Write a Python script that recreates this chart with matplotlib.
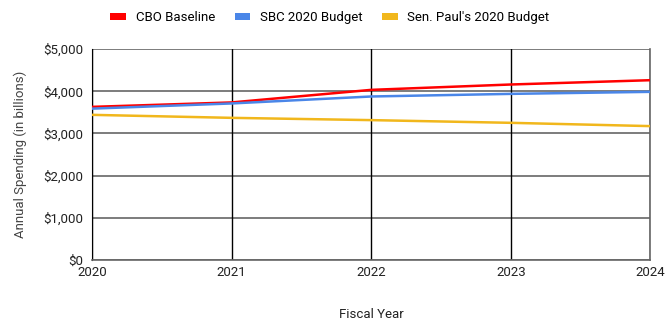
import matplotlib
matplotlib.use("Agg")
import matplotlib.pyplot as plt
from matplotlib.ticker import FuncFormatter
from matplotlib.patches import Patch

plt.rcParams['font.family'] = ['Roboto', 'DejaVu Sans']

years = [2020, 2021, 2022, 2023, 2024]
cbo_baseline = [3628, 3733, 4031, 4158, 4260]
sbc_budget = [3586, 3709, 3874, 3936, 3984]
paul_budget = [3439, 3368, 3314, 3250, 3172]
series_names = ["CBO Baseline", "SBC 2020 Budget", "Sen. Paul's 2020 Budget"]
colors = ["#ff0000", "#4a86e8", "#f1b71c"]
y_ticks = [0, 1000, 2000, 3000, 4000, 5000]

fig = plt.figure(figsize=(6.65, 3.2), dpi=100)
ax = fig.add_axes([0.1383, 0.1875, 0.978 - 0.1383, 0.847 - 0.1875])

ax.set_xlim(years[0], years[-1])
ax.set_ylim(0, 5000)
ax.set_yticks(y_ticks)
ax.set_xticks(years)
ax.yaxis.set_major_formatter(FuncFormatter(lambda v, p: f"${int(v):,}"))

for y in y_ticks:
    ax.axhline(y, color="#666666", lw=1.2, zorder=1)
for x in years:
    ax.axvline(x, color="#000000", lw=1.0, zorder=1)

for data, c in zip([cbo_baseline, sbc_budget, paul_budget], colors):
    ax.plot(years, data, color=c, lw=1.8, zorder=3, solid_capstyle="butt")

ax.spines["top"].set_visible(False)
ax.spines["left"].set_color("#000000")
ax.spines["right"].set_color("#666666")
ax.spines["bottom"].set_color("#666666")
ax.spines["bottom"].set_linewidth(1.2)
ax.spines["right"].set_linewidth(1.2)

ax.tick_params(axis="both", length=0, labelsize=9.5, colors="#222222")
ax.tick_params(axis="y", pad=6)
ax.tick_params(axis="x", pad=4)

ax.set_xlabel("Fiscal Year", fontsize=9.5, color="#222222", labelpad=21)
ax.set_ylabel("Annual Spending (in billions)", fontsize=9.5, color="#444444", labelpad=12)

handles = [Patch(facecolor=c, edgecolor="none") for c in colors]
fig.legend(handles, series_names, loc="center", bbox_to_anchor=(0.496, 0.944),
           ncol=3, frameon=False, fontsize=9.5, handlelength=1.2, handleheight=0.45,
           handletextpad=0.7, columnspacing=1.5)

fig.savefig("out.png", dpi=100)
